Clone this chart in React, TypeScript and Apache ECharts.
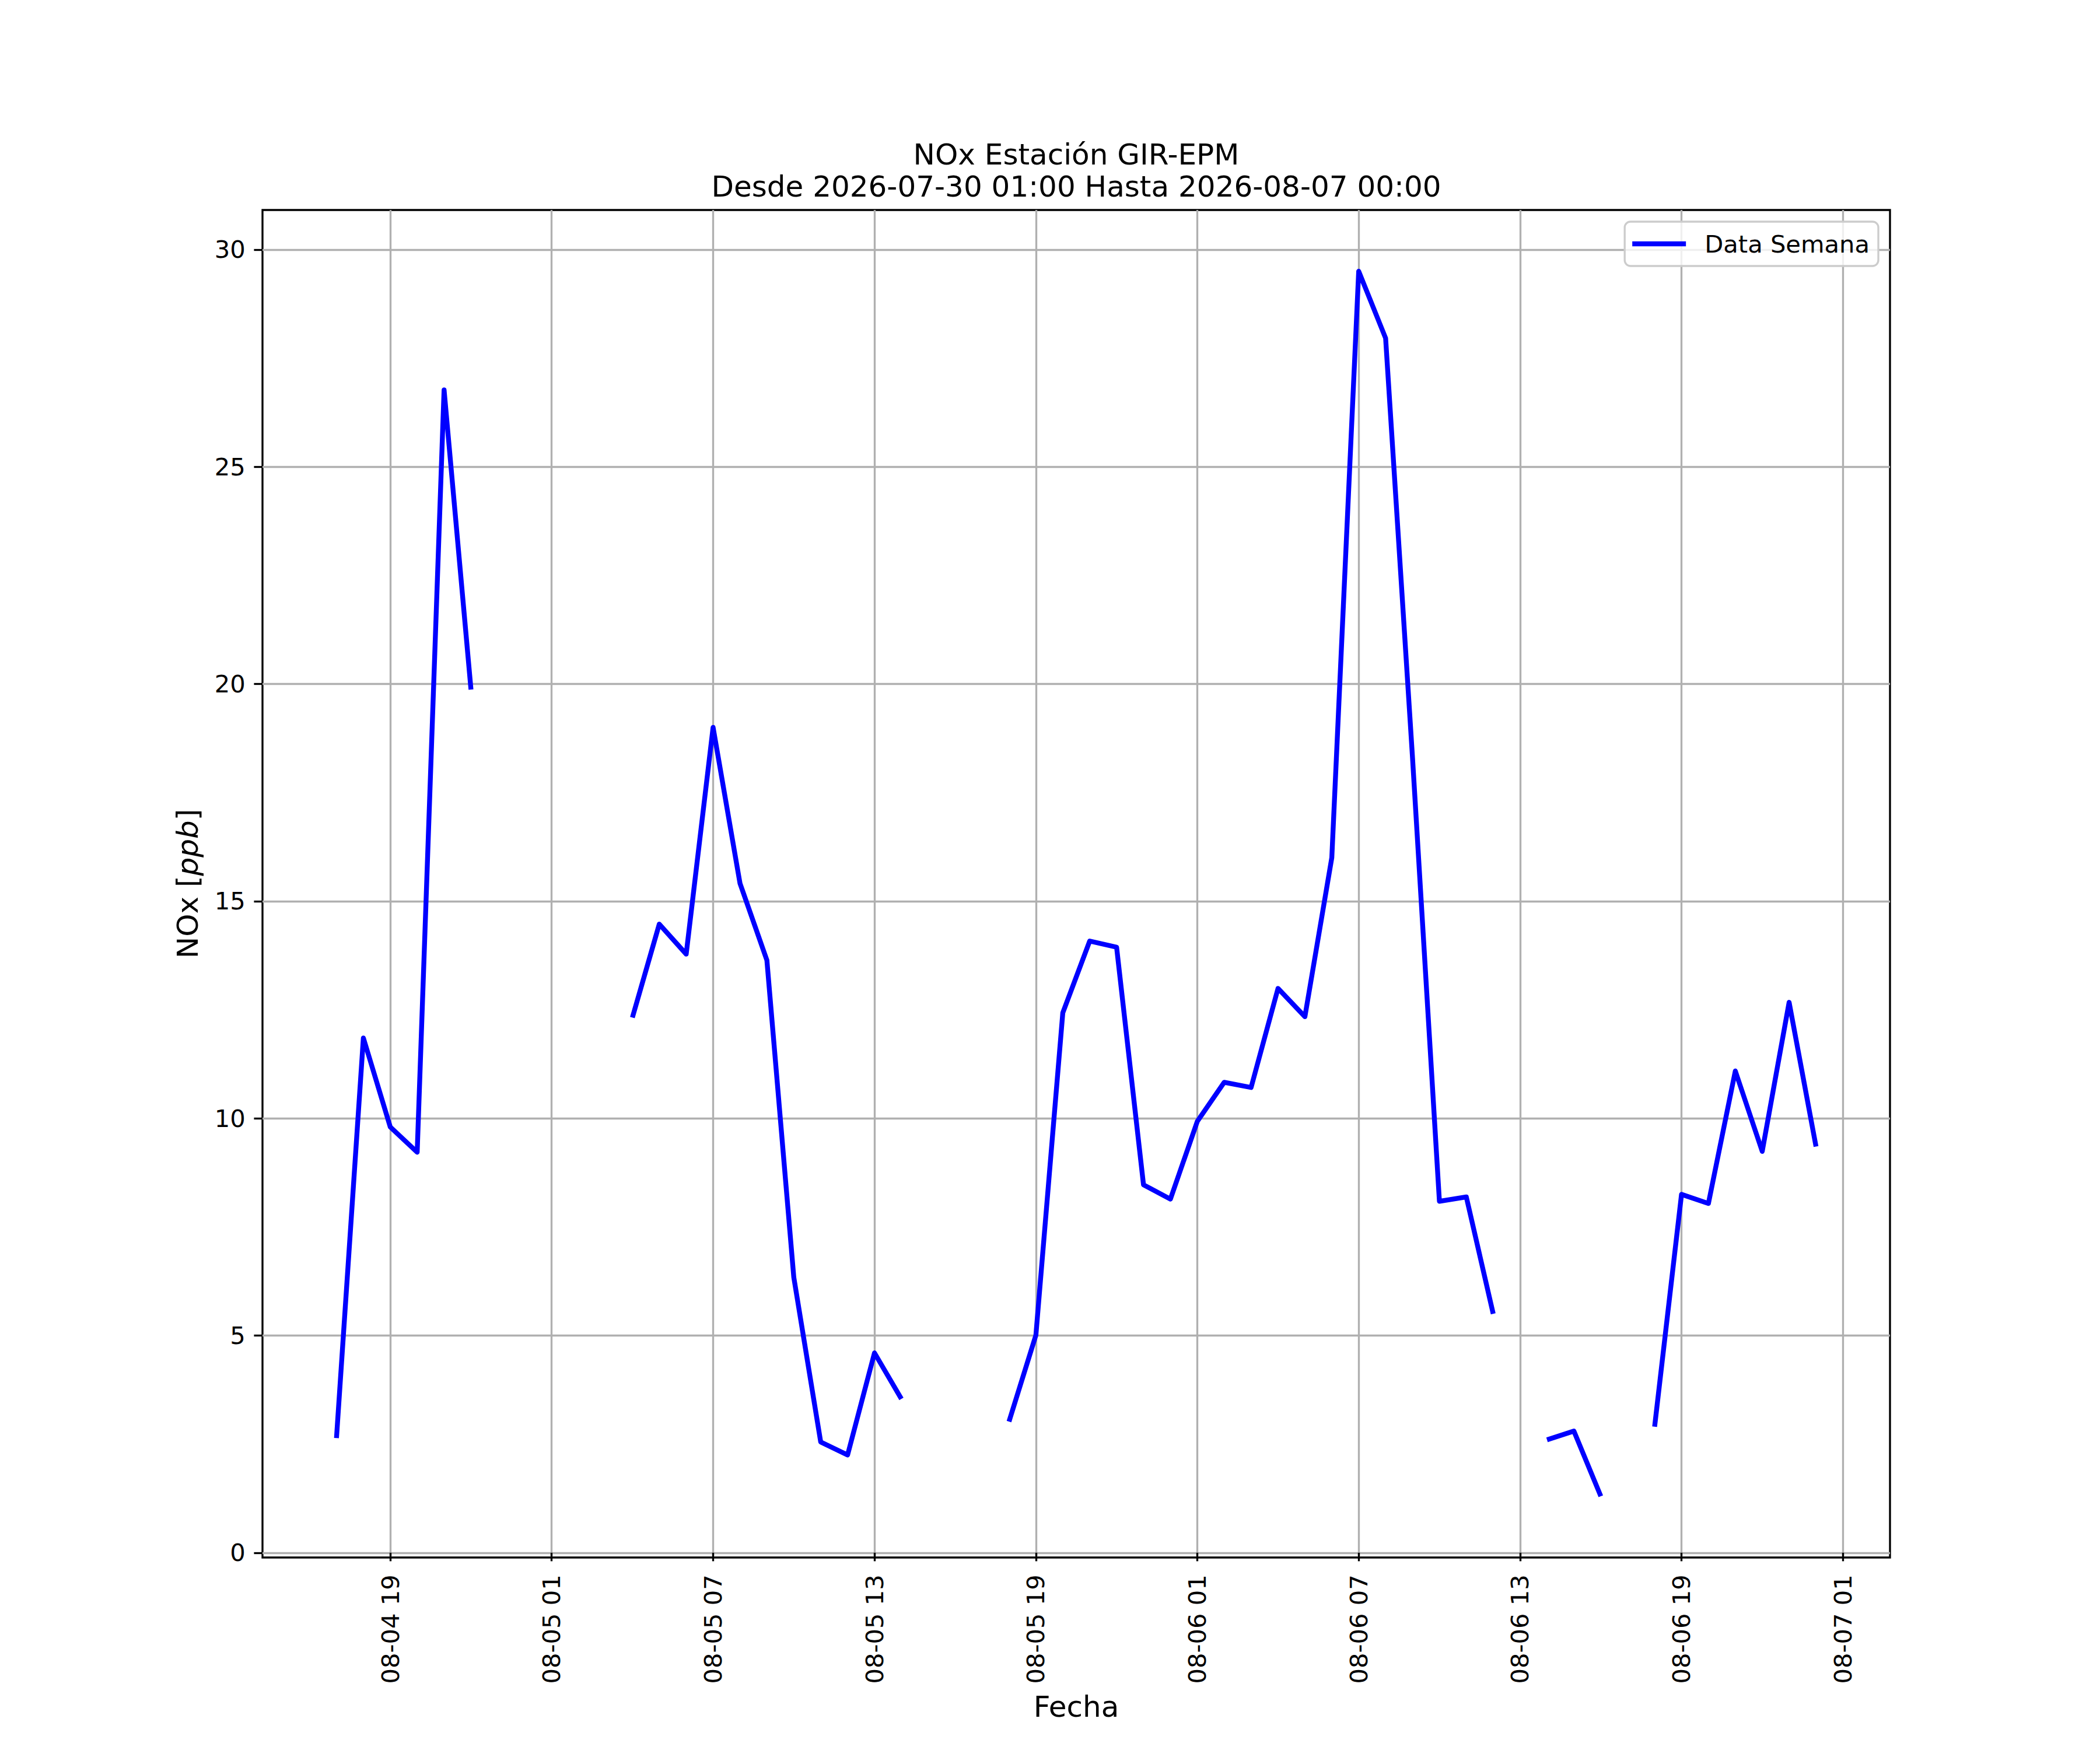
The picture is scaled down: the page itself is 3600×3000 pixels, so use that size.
import React, { useEffect, useRef } from "react";
import * as echarts from "echarts";

const TITLE_LINE_1 = "NOx Estación GIR-EPM";
const TITLE_LINE_2 = "Desde 2026-07-30 01:00 Hasta 2026-08-07 00:00";
const SERIES_NAME = "Data Semana";
const X_NAME = "Fecha";

const TIMES = [
  "2026-08-04 17:00", "2026-08-04 18:00", "2026-08-04 19:00", "2026-08-04 20:00",
  "2026-08-04 21:00", "2026-08-04 22:00", "2026-08-04 23:00",
  "2026-08-05 00:00", "2026-08-05 01:00", "2026-08-05 02:00", "2026-08-05 03:00",
  "2026-08-05 04:00", "2026-08-05 05:00", "2026-08-05 06:00", "2026-08-05 07:00",
  "2026-08-05 08:00", "2026-08-05 09:00", "2026-08-05 10:00", "2026-08-05 11:00",
  "2026-08-05 12:00", "2026-08-05 13:00", "2026-08-05 14:00", "2026-08-05 15:00",
  "2026-08-05 16:00", "2026-08-05 17:00", "2026-08-05 18:00", "2026-08-05 19:00",
  "2026-08-05 20:00", "2026-08-05 21:00", "2026-08-05 22:00", "2026-08-05 23:00",
  "2026-08-06 00:00", "2026-08-06 01:00", "2026-08-06 02:00", "2026-08-06 03:00",
  "2026-08-06 04:00", "2026-08-06 05:00", "2026-08-06 06:00", "2026-08-06 07:00",
  "2026-08-06 08:00", "2026-08-06 09:00", "2026-08-06 10:00", "2026-08-06 11:00",
  "2026-08-06 12:00", "2026-08-06 13:00", "2026-08-06 14:00", "2026-08-06 15:00",
  "2026-08-06 16:00", "2026-08-06 17:00", "2026-08-06 18:00", "2026-08-06 19:00",
  "2026-08-06 20:00", "2026-08-06 21:00", "2026-08-06 22:00", "2026-08-06 23:00",
  "2026-08-07 00:00",
];

const NOX: (number | null)[] = [
  2.64, 11.85, 9.8, 9.22, 26.77, 19.87, null,
  null, null, null, null,
  12.32, 14.47, 13.78, 19.0,
  15.41, 13.64, 6.34, 2.55,
  2.25, 4.6, 3.54, null,
  null, null, 3.02, 5.01,
  12.43, 14.08, 13.94, 8.47,
  8.14, 9.93, 10.83, 10.71,
  12.99, 12.34, 16.0, 29.5,
  27.96, 18.3, 8.09, 8.19,
  5.5, null, 2.6, 2.8,
  1.3, null, 2.9, 8.25,
  8.04, 11.09, 9.24, 12.67,
  9.35,
];

const X_TICKS = [
  "2026-08-04 19:00", "2026-08-05 01:00", "2026-08-05 07:00", "2026-08-05 13:00",
  "2026-08-05 19:00", "2026-08-06 01:00", "2026-08-06 07:00", "2026-08-06 13:00",
  "2026-08-06 19:00", "2026-08-07 01:00",
];

const Y_TICKS = [0, 5, 10, 15, 20, 25, 30];

const FONT = "DejaVu Sans";
const PT = 300 / 72;
const ORIGIN = "2026-08-04 01:00";
const HOUR = 3600 * 1000;

function parseTime(s: string): number {
  const [d, t] = s.split(" ");
  const [Y, M, D] = d.split("-").map(Number);
  const [h, m] = t.split(":").map(Number);
  return Date.UTC(Y, M - 1, D, h, m);
}

// hours elapsed since ORIGIN (used as the numeric x scale)
function toHours(s: string): number {
  return (parseTime(s) - parseTime(ORIGIN)) / HOUR;
}

function pad2(n: number) {
  return n < 10 ? "0" + n : "" + n;
}

function formatHours(h: number): string {
  const d = new Date(parseTime(ORIGIN) + Math.round(h * 60) * 60000);
  return `${pad2(d.getUTCMonth() + 1)}-${pad2(d.getUTCDate())} ${pad2(d.getUTCHours())}`;
}

export default function App() {
  const ref = useRef<HTMLDivElement>(null);

  useEffect(() => {
    if (!ref.current) return;
    const chart = echarts.init(ref.current, undefined, { renderer: "svg" });

    const xs = TIMES.map(toHours);
    const data = xs.map((x, i) => [x, NOX[i]]);
    const xMin0 = xs[0];
    const xMax0 = xs[xs.length - 1];
    const xPad = (xMax0 - xMin0) * 0.05;
    const vals = NOX.filter((v) => v !== null) as number[];
    const yMin0 = Math.min(...vals);
    const yMax0 = Math.max(...vals);
    const yPad = (yMax0 - yMin0) * 0.05;

    const left = 450;
    const right = 3240;
    const top = 360;
    const bottom = 2670;
    const cx = (left + right) / 2;

    const tickFont = 10 * PT;
    const labelFont = 12 * PT;
    const xTickVals = X_TICKS.map(toHours);

    const option: any = {
      animation: false,
      backgroundColor: "#ffffff",
      textStyle: { fontFamily: FONT },
      grid: {
        left,
        right: 3600 - right,
        top,
        bottom: 3000 - bottom,
        show: true,
        borderColor: "#000000",
        borderWidth: 0.8 * PT,
        backgroundColor: "transparent",
        containLabel: false,
      },
      legend: {
        data: [{ name: SERIES_NAME, icon: "rect" }],
        right: 3600 - 3220,
        top: 380,
        orient: "horizontal",
        itemWidth: 92,
        itemHeight: 2 * PT,
        padding: [15, 15, 15, 13],
        backgroundColor: "rgba(255,255,255,0.8)",
        borderColor: "#cccccc",
        borderWidth: 0.8 * PT,
        borderRadius: 10,
        itemStyle: { color: "#0000ff", borderWidth: 0 },
        textStyle: {
          fontFamily: FONT,
          fontSize: tickFont,
          color: "#000000",
          lineHeight: 46,
          padding: [0, 0, 0, 27],
        },
      },
      xAxis: {
        type: "value",
        min: xMin0 - xPad,
        max: xMax0 + xPad,
        name: X_NAME,
        nameLocation: "middle",
        nameGap: 227,
        nameTextStyle: {
          fontFamily: FONT,
          fontSize: labelFont,
          lineHeight: 58,
          color: "#000000",
        },
        axisLine: { show: false },
        axisTick: {
          show: true,
          length: 3.5 * PT,
          lineStyle: { color: "#000000", width: 0.8 * PT },
          customValues: xTickVals,
        },
        axisLabel: {
          show: true,
          rotate: 90,
          margin: 7 * PT,
          fontFamily: FONT,
          fontSize: tickFont,
          color: "#000000",
          hideOverlap: false,
          customValues: xTickVals,
          formatter: (v: number) => formatHours(v),
        },
        splitLine: {
          show: true,
          lineStyle: { color: "#b0b0b0", width: 0.8 * PT },
        },
      },
      yAxis: {
        type: "value",
        min: yMin0 - yPad,
        max: yMax0 + yPad,
        name: "NOx [{i|ppb}]",
        nameLocation: "middle",
        nameGap: 99,
        nameTextStyle: {
          fontFamily: FONT,
          fontSize: labelFont,
          lineHeight: 58,
          color: "#000000",
          rich: {
            i: {
              fontFamily: FONT,
              fontSize: labelFont,
              fontStyle: "italic",
              lineHeight: 58,
              color: "#000000",
            },
          },
        },
        axisLine: { show: false },
        axisTick: {
          show: true,
          length: 3.5 * PT,
          lineStyle: { color: "#000000", width: 0.8 * PT },
          customValues: Y_TICKS,
        },
        axisLabel: {
          show: true,
          margin: 7 * PT,
          fontFamily: FONT,
          fontSize: tickFont,
          color: "#000000",
          customValues: Y_TICKS,
        },
        splitLine: {
          show: true,
          lineStyle: { color: "#b0b0b0", width: 0.8 * PT },
        },
      },
      graphic: [
        {
          type: "text",
          x: cx,
          y: 265,
          style: {
            text: TITLE_LINE_1,
            fontFamily: FONT,
            fontSize: labelFont,
            fill: "#000000",
            align: "center",
            verticalAlign: "middle",
          },
        },
        {
          type: "text",
          x: cx,
          y: 320,
          style: {
            text: TITLE_LINE_2,
            fontFamily: FONT,
            fontSize: labelFont,
            fill: "#000000",
            align: "center",
            verticalAlign: "middle",
          },
        },
      ],
      series: [
        {
          name: SERIES_NAME,
          type: "line",
          data,
          symbol: "none",
          showSymbol: false,
          connectNulls: false,
          lineStyle: { color: "#0000ff", width: 2 * PT, cap: "butt", join: "round" },
          itemStyle: { color: "#0000ff" },
          z: 3,
        },
      ],
    };

    chart.setOption(option);
    return () => chart.dispose();
  }, []);

  return (
    <div
      ref={ref}
      style={{ position: "absolute", left: 0, top: 0, width: 3600, height: 3000 }}
    />
  );
}
